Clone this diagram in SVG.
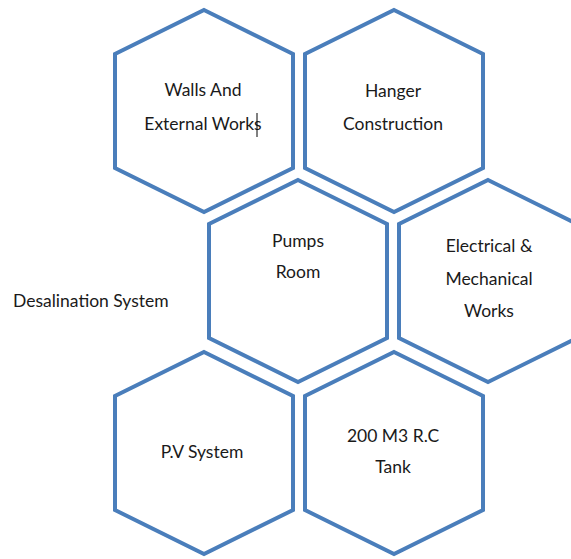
<svg xmlns="http://www.w3.org/2000/svg" width="571" height="559" viewBox="0 0 571 559">
<defs>
<style>
.hex{fill:#ffffff;stroke:#4A7EBB;stroke-width:4;stroke-linejoin:miter}
.t{font-family:Lato,"Open Sans","Liberation Sans",sans-serif;font-size:17.5px;fill:#1a1a1a;text-anchor:middle}
.ts{font-family:Lato,"Open Sans","Liberation Sans",sans-serif;font-size:17.5px;fill:#1a1a1a;text-anchor:start}
</style>
<polygon id="hexshape" points="0,-101 89,-57 89,57 0,101 -89,57 -89,-57"/>
</defs>
<rect width="571" height="559" fill="#ffffff"/>
<g id="connectors"></g>
<g id="walls">
<use href="#hexshape" class="hex" x="204" y="111"/>
<text class="t" x="203" y="96">Walls And</text>
<text class="t" x="203" y="130">External Works</text>
<line x1="257" y1="113" x2="257" y2="137" stroke="#000" stroke-width="1"/>
</g>
<g id="hanger">
<use href="#hexshape" class="hex" x="394" y="111"/>
<text class="t" x="393" y="97">Hanger</text>
<text class="t" x="393" y="130">Construction</text>
</g>
<g id="pumps">
<use href="#hexshape" class="hex" x="298" y="281"/>
<text class="t" x="298" y="247">Pumps</text>
<text class="t" x="298" y="278">Room</text>
</g>
<g id="electrical">
<use href="#hexshape" class="hex" x="488" y="281"/>
<text class="t" x="489" y="252">Electrical &amp;</text>
<text class="t" x="489" y="285">Mechanical</text>
<text class="t" x="489" y="317">Works</text>
</g>
<g id="pv">
<use href="#hexshape" class="hex" x="204" y="453"/>
<text class="t" x="202" y="458">P.V System</text>
</g>
<g id="tank">
<use href="#hexshape" class="hex" x="394" y="453"/>
<text class="t" x="393" y="442">200 M3 R.C</text>
<text class="t" x="393" y="473">Tank</text>
</g>
<g id="desalination">
<text class="ts" x="13" y="307">Desalination System</text>
</g>
</svg>
